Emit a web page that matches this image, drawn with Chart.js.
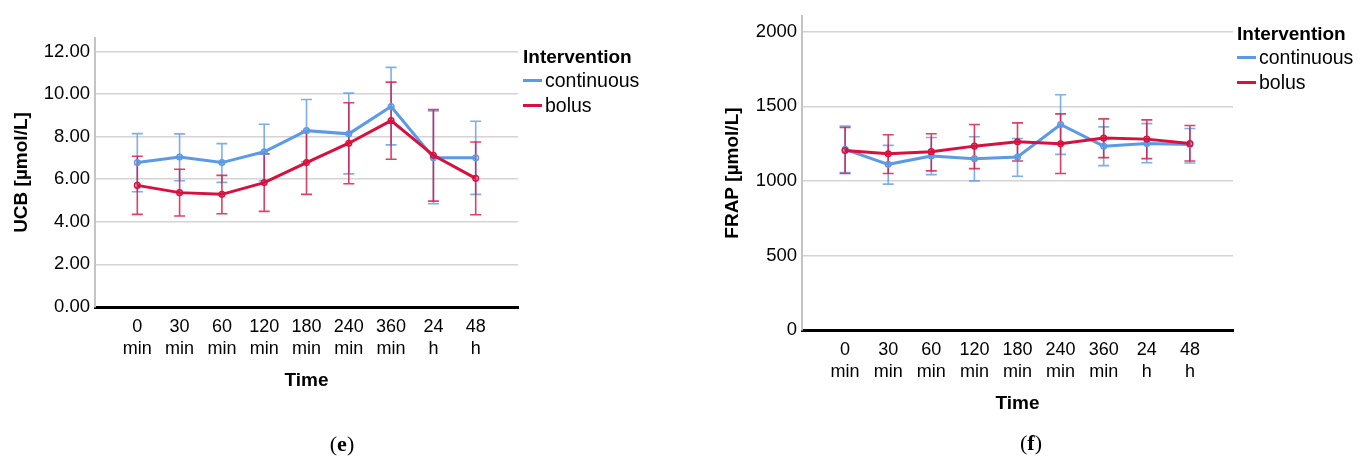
<!DOCTYPE html>
<html>
<head>
<meta charset="utf-8">
<script src="https://cdn.jsdelivr.net/npm/chart.js@4.4.1/dist/chart.umd.min.js"></script>
<style>
  body { margin: 0; background: #fff; }
  #wrap { position: relative; width: 1358px; height: 457px; overflow: hidden; font-family: "Liberation Sans", Arial, sans-serif; }
  .pane { position: absolute; top: 0; }
  .legend { position: absolute; color: #000; }
  .legend .ttl { font-weight: bold; font-size: 19px; line-height: 22px; }
  .legend .item { position: relative; font-size: 19.5px; line-height: 25px; padding-left: 22px; }
  .legend .item i { position: absolute; left: 0; top: 11px; width: 19px; height: 3px; }
  .cap { position: absolute; font-family: "Liberation Serif", "DejaVu Serif", serif; font-size: 22px; transform: translateX(-50%); }
</style>
</head>
<body>
<div id="wrap">
  <div class="pane" style="left:0;width:680px;height:457px"><canvas id="ucb" width="680" height="457"></canvas></div>
  <div class="pane" style="left:680px;width:678px;height:457px"><canvas id="frap" width="678" height="457"></canvas></div>
  <div class="cap" style="left:342px;top:431px">(<b>e</b>)</div>
  <div class="cap" style="left:1031px;top:430px">(<b>f</b>)</div>
</div>
<script>
// time points on the x axis
const timeLabels = ["0 min", "30 min", "60 min", "120 min", "180 min", "240 min", "360 min", "24 h", "48 h"];
const seriesNames = ["continuous", "bolus"];
const seriesColors = ["#5b9be6", "#d9103e"];
const errColors = ["rgba(91,155,230,0.8)", "rgba(217,16,62,0.8)"];

// (e) UCB [µmol/L] – mean with lower/upper error bar ends
const ucbCont = [6.78, 7.04, 6.78, 7.29, 8.28, 8.13, 9.41, 7.01, 7.01];
const ucbContLo = [5.41, 5.93, 5.85, 5.93, 6.82, 6.25, 7.61, 4.85, 5.29];
const ucbContHi = [8.14, 8.13, 7.67, 8.58, 9.74, 10.04, 11.25, 9.21, 8.72];
const ucbBolus = [5.71, 5.37, 5.29, 5.84, 6.78, 7.69, 8.75, 7.12, 6.04];
const ucbBolusLo = [4.35, 4.27, 4.38, 4.49, 5.29, 5.79, 6.94, 4.97, 4.33];
const ucbBolusHi = [7.08, 6.47, 6.18, 7.19, 8.25, 9.59, 10.56, 9.27, 7.75];
const ucbTicks = [0, 2, 4, 6, 8, 10, 12];

// (f) FRAP [µmol/L]
const frapCont = [1211, 1111, 1167, 1149, 1160, 1378, 1233, 1251, 1244];
const frapContLo = [1056, 978, 1042, 1000, 1031, 1178, 1102, 1122, 1120];
const frapContHi = [1367, 1238, 1291, 1296, 1284, 1578, 1362, 1384, 1351];
const frapBolus = [1204, 1182, 1196, 1233, 1262, 1249, 1287, 1280, 1251];
const frapBolusLo = [1049, 1049, 1067, 1082, 1133, 1049, 1156, 1149, 1133];
const frapBolusHi = [1358, 1309, 1316, 1378, 1389, 1449, 1416, 1409, 1371];
const frapTicks = [0, 500, 1000, 1500, 2000];

const FONT = "'Liberation Sans', Arial, sans-serif";

// error bars drawn under the lines
const errorBars = {
  id: "errorBars",
  beforeDatasetsDraw(chart) {
    const ctx = chart.ctx;
    const y = chart.scales.y;
    chart.data.datasets.forEach((ds, i) => {
      const meta = chart.getDatasetMeta(i);
      ctx.save();
      ctx.strokeStyle = ds.errColor;
      ctx.lineWidth = 1.6;
      meta.data.forEach((pt, j) => {
        const yl = y.getPixelForValue(ds.errLo[j]);
        const yh = y.getPixelForValue(ds.errHi[j]);
        ctx.beginPath();
        ctx.moveTo(pt.x, yl);
        ctx.lineTo(pt.x, yh);
        ctx.moveTo(pt.x - 5.5, yl);
        ctx.lineTo(pt.x + 5.5, yl);
        ctx.moveTo(pt.x - 5.5, yh);
        ctx.lineTo(pt.x + 5.5, yh);
        ctx.stroke();
      });
      ctx.restore();
    });
  },
};

function toPoints(arr) {
  return arr.map((v, i) => ({ x: i, y: v }));
}

function makeDataset(idx, vals, lo, hi) {
  return {
    label: seriesNames[idx],
    data: toPoints(vals),
    errLo: lo,
    errHi: hi,
    errColor: errColors[idx],
    borderColor: seriesColors[idx],
    backgroundColor: seriesColors[idx] + "22",
    borderWidth: 3,
    tension: 0,
    pointRadius: 2.8,
    pointBorderWidth: 1.5,
    pointBorderColor: seriesColors[idx],
    pointBackgroundColor: seriesColors[idx] + "22",
    order: idx === 0 ? 2 : 1,
  };
}

function makeChart(id, cfg) {
  return new Chart(document.getElementById(id), {
    type: "line",
    data: {
      datasets: [
        makeDataset(0, cfg.cont, cfg.contLo, cfg.contHi),
        makeDataset(1, cfg.bolus, cfg.bolusLo, cfg.bolusHi),
      ],
    },
    plugins: [errorBars],
    options: {
      responsive: false,
      animation: false,
      events: [],
      layout: { padding: cfg.pad },
      plugins: { legend: { display: false }, tooltip: { enabled: false } },
      scales: {
        x: {
          type: "linear",
          min: -1,
          max: 9,
          afterBuildTicks: (s) => {
            s.ticks = timeLabels.map((_, i) => ({ value: i }));
          },
          afterFit: (s) => {
            s.height = 88;
          },
          grid: { display: false },
          border: { display: true, color: "#000", width: 3 },
          ticks: {
            autoSkip: false,
            maxRotation: 0,
            padding: 2,
            color: "#000",
            font: { family: FONT, size: 18, lineHeight: 1.17 },
            callback: (v) => timeLabels[v].split(" "),
          },
          title: {
            display: true,
            text: "Time",
            color: "#000",
            padding: { top: 0, bottom: 3 },
            font: { family: FONT, size: 19, weight: "bold", lineHeight: 1.2 },
          },
        },
        y: {
          min: 0,
          max: cfg.yMax,
          afterBuildTicks: (s) => {
            s.ticks = cfg.ticks.map((v) => ({ value: v }));
          },
          afterFit: (s) => {
            s.width = cfg.yWidth;
          },
          grid: { color: "#d4d4d4", lineWidth: 1.5, drawTicks: false },
          border: { color: "#c4c4c4", width: 2 },
          ticks: {
            padding: 5,
            color: "#000",
            font: { family: FONT, size: 18.5 },
            callback: cfg.fmt,
          },
          title: {
            display: true,
            text: cfg.yTitle,
            color: "#000",
            padding: { top: cfg.titlePad, bottom: 0 },
            font: { family: FONT, size: 19, weight: "bold", lineHeight: 1.2 },
          },
        },
      },
    },
  });
}

makeChart("ucb", {
  cont: ucbCont, contLo: ucbContLo, contHi: ucbContHi,
  bolus: ucbBolus, bolusLo: ucbBolusLo, bolusHi: ucbBolusHi,
  ticks: ucbTicks, yMax: 12.63, yWidth: 95, titlePad: 10.6,
  yTitle: "UCB [µmol/L]",
  fmt: (v) => v.toFixed(2),
  pad: { left: 0, top: 38, right: 162, bottom: 62 },
});

makeChart("frap", {
  cont: frapCont, contLo: frapContLo, contHi: frapContHi,
  bolus: frapBolus, bolusLo: frapBolusLo, bolusHi: frapBolusHi,
  ticks: frapTicks, yMax: 2105, yWidth: 122, titlePad: 41.6,
  yTitle: "FRAP [µmol/L]",
  fmt: (v) => String(v),
  pad: { left: 0, top: 15, right: 125, bottom: 39 },
});

// legends ("Intervention")
function addLegend(left, top) {
  const box = document.createElement("div");
  box.className = "legend";
  box.style.left = left + "px";
  box.style.top = top + "px";
  let html = '<div class="ttl">Intervention</div>';
  seriesNames.forEach((n, i) => {
    html += `<div class="item"><i style="background:${seriesColors[i]}"></i>${n}</div>`;
  });
  box.innerHTML = html;
  document.getElementById("wrap").appendChild(box);
}
addLegend(523, 46);
addLegend(1237, 23);
</script>
</body>
</html>
